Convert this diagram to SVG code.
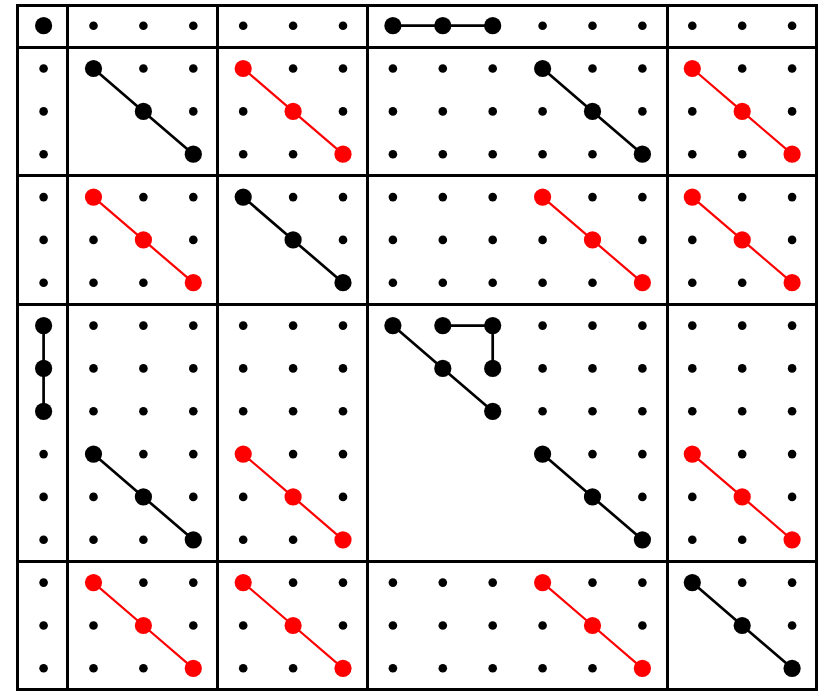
<svg xmlns="http://www.w3.org/2000/svg" width="821" height="691" viewBox="0 0 821 691">
<style>
.grid{stroke:#000;stroke-width:3;fill:none}
.lk{stroke:#000;stroke-width:2.7;fill:none}
.lr{stroke:#f00;stroke-width:2.2;fill:none}
.s{fill:#000}
.b{fill:#000}
.r{fill:#f00}
</style>
<defs>
<circle id="sd" r="4.3" class="s"/>
</defs>
<rect width="821" height="691" fill="#fff"/>
<g id="grid" class="grid">
<rect x="17.5" y="5.5" width="799" height="684"/>
<path d="M67.5 5.5V689.5M217.5 5.5V689.5M367.5 5.5V689.5M667.5 5.5V689.5M17.5 47.5H816.5M17.5 175.5H816.5M17.5 304.5H816.5M17.5 561.5H816.5"/>
</g>
<g id="connectors">
<path class="lk" d="M392.9 25.7H492.7"/>
<path class="lk" d="M93.5 68.5L143.4 111.4L193.3 154.2"/>
<path class="lk" d="M542.6 68.5L592.5 111.4L642.4 154.2"/>
<path class="lk" d="M243.2 197.1L293.1 239.9L343 282.7"/>
<path class="lk" d="M43.6 325.6V411.3"/>
<path class="lk" d="M93.5 454.1L143.4 496.9L193.3 539.8"/>
<path class="lk" d="M392.9 325.6L442.8 368.4L492.7 411.3"/>
<path class="lk" d="M442.8 325.6H492.7V368.4"/>
<path class="lk" d="M542.6 454.1L592.5 496.9L642.4 539.8"/>
<path class="lk" d="M692.3 582.6L742.2 625.5L792.1 668.3"/>
<path class="lr" d="M243.2 68.5L293.1 111.4L343 154.2"/>
<path class="lr" d="M692.3 68.5L742.2 111.4L792.1 154.2"/>
<path class="lr" d="M93.5 197.1L143.4 239.9L193.3 282.7"/>
<path class="lr" d="M542.6 197.1L592.5 239.9L642.4 282.7"/>
<path class="lr" d="M692.3 197.1L742.2 239.9L792.1 282.7"/>
<path class="lr" d="M243.2 454.1L293.1 496.9L343 539.8"/>
<path class="lr" d="M692.3 454.1L742.2 496.9L792.1 539.8"/>
<path class="lr" d="M93.5 582.6L143.4 625.5L193.3 668.3"/>
<path class="lr" d="M243.2 582.6L293.1 625.5L343 668.3"/>
<path class="lr" d="M542.6 582.6L592.5 625.5L642.4 668.3"/>
</g>
<g id="aA"><circle class="b" cx="43.6" cy="25.7" r="8.6"/></g>
<g id="aB"><use href="#sd" x="93.5" y="25.7"/><use href="#sd" x="143.4" y="25.7"/><use href="#sd" x="193.3" y="25.7"/></g>
<g id="aC"><use href="#sd" x="243.2" y="25.7"/><use href="#sd" x="293.1" y="25.7"/><use href="#sd" x="343" y="25.7"/></g>
<g id="aD"><circle class="b" cx="392.9" cy="25.7" r="8.6"/><circle class="b" cx="442.8" cy="25.7" r="8.6"/><circle class="b" cx="492.7" cy="25.7" r="8.6"/><use href="#sd" x="542.6" y="25.7"/><use href="#sd" x="592.5" y="25.7"/><use href="#sd" x="642.4" y="25.7"/></g>
<g id="aE"><use href="#sd" x="692.3" y="25.7"/><use href="#sd" x="742.2" y="25.7"/><use href="#sd" x="792.1" y="25.7"/></g>

<g id="bA"><use href="#sd" x="43.6" y="68.5"/><use href="#sd" x="43.6" y="111.4"/><use href="#sd" x="43.6" y="154.2"/></g>
<g id="bB"><circle class="b" cx="93.5" cy="68.5" r="8.6"/><circle class="b" cx="143.4" cy="111.4" r="8.6"/><circle class="b" cx="193.3" cy="154.2" r="8.6"/><use href="#sd" x="143.4" y="68.5"/><use href="#sd" x="193.3" y="68.5"/><use href="#sd" x="193.3" y="111.4"/></g>
<g id="bC"><circle class="r" cx="243.2" cy="68.5" r="8.6"/><circle class="r" cx="293.1" cy="111.4" r="8.6"/><circle class="r" cx="343" cy="154.2" r="8.6"/><use href="#sd" x="293.1" y="68.5"/><use href="#sd" x="343" y="68.5"/><use href="#sd" x="243.2" y="111.4"/><use href="#sd" x="343" y="111.4"/><use href="#sd" x="243.2" y="154.2"/><use href="#sd" x="293.1" y="154.2"/></g>
<g id="bD"><use href="#sd" x="392.9" y="68.5"/><use href="#sd" x="442.8" y="68.5"/><use href="#sd" x="492.7" y="68.5"/><use href="#sd" x="392.9" y="111.4"/><use href="#sd" x="442.8" y="111.4"/><use href="#sd" x="492.7" y="111.4"/><use href="#sd" x="392.9" y="154.2"/><use href="#sd" x="442.8" y="154.2"/><use href="#sd" x="492.7" y="154.2"/><circle class="b" cx="542.6" cy="68.5" r="8.6"/><circle class="b" cx="592.5" cy="111.4" r="8.6"/><circle class="b" cx="642.4" cy="154.2" r="8.6"/><use href="#sd" x="592.5" y="68.5"/><use href="#sd" x="642.4" y="68.5"/><use href="#sd" x="542.6" y="111.4"/><use href="#sd" x="642.4" y="111.4"/><use href="#sd" x="542.6" y="154.2"/><use href="#sd" x="592.5" y="154.2"/></g>
<g id="bE"><circle class="r" cx="692.3" cy="68.5" r="8.6"/><circle class="r" cx="742.2" cy="111.4" r="8.6"/><circle class="r" cx="792.1" cy="154.2" r="8.6"/><use href="#sd" x="742.2" y="68.5"/><use href="#sd" x="792.1" y="68.5"/><use href="#sd" x="692.3" y="111.4"/><use href="#sd" x="792.1" y="111.4"/><use href="#sd" x="692.3" y="154.2"/><use href="#sd" x="742.2" y="154.2"/></g>

<g id="cA"><use href="#sd" x="43.6" y="197.1"/><use href="#sd" x="43.6" y="239.9"/><use href="#sd" x="43.6" y="282.7"/></g>
<g id="cB"><circle class="r" cx="93.5" cy="197.1" r="8.6"/><circle class="r" cx="143.4" cy="239.9" r="8.6"/><circle class="r" cx="193.3" cy="282.7" r="8.6"/><use href="#sd" x="143.4" y="197.1"/><use href="#sd" x="193.3" y="197.1"/><use href="#sd" x="93.5" y="239.9"/><use href="#sd" x="193.3" y="239.9"/><use href="#sd" x="93.5" y="282.7"/><use href="#sd" x="143.4" y="282.7"/></g>
<g id="cC"><circle class="b" cx="243.2" cy="197.1" r="8.6"/><circle class="b" cx="293.1" cy="239.9" r="8.6"/><circle class="b" cx="343" cy="282.7" r="8.6"/><use href="#sd" x="293.1" y="197.1"/><use href="#sd" x="343" y="197.1"/><use href="#sd" x="343" y="239.9"/></g>
<g id="cD"><use href="#sd" x="392.9" y="197.1"/><use href="#sd" x="442.8" y="197.1"/><use href="#sd" x="492.7" y="197.1"/><use href="#sd" x="392.9" y="239.9"/><use href="#sd" x="442.8" y="239.9"/><use href="#sd" x="492.7" y="239.9"/><use href="#sd" x="392.9" y="282.7"/><use href="#sd" x="442.8" y="282.7"/><use href="#sd" x="492.7" y="282.7"/><circle class="r" cx="542.6" cy="197.1" r="8.6"/><circle class="r" cx="592.5" cy="239.9" r="8.6"/><circle class="r" cx="642.4" cy="282.7" r="8.6"/><use href="#sd" x="592.5" y="197.1"/><use href="#sd" x="642.4" y="197.1"/><use href="#sd" x="542.6" y="239.9"/><use href="#sd" x="642.4" y="239.9"/><use href="#sd" x="542.6" y="282.7"/><use href="#sd" x="592.5" y="282.7"/></g>
<g id="cE"><circle class="r" cx="692.3" cy="197.1" r="8.6"/><circle class="r" cx="742.2" cy="239.9" r="8.6"/><circle class="r" cx="792.1" cy="282.7" r="8.6"/><use href="#sd" x="742.2" y="197.1"/><use href="#sd" x="792.1" y="197.1"/><use href="#sd" x="692.3" y="239.9"/><use href="#sd" x="792.1" y="239.9"/><use href="#sd" x="692.3" y="282.7"/><use href="#sd" x="742.2" y="282.7"/></g>

<g id="dA"><circle class="b" cx="43.6" cy="325.6" r="8.6"/><circle class="b" cx="43.6" cy="368.4" r="8.6"/><circle class="b" cx="43.6" cy="411.3" r="8.6"/><use href="#sd" x="43.6" y="454.1"/><use href="#sd" x="43.6" y="496.9"/><use href="#sd" x="43.6" y="539.8"/></g>
<g id="dB"><use href="#sd" x="93.5" y="325.6"/><use href="#sd" x="143.4" y="325.6"/><use href="#sd" x="193.3" y="325.6"/><use href="#sd" x="93.5" y="368.4"/><use href="#sd" x="143.4" y="368.4"/><use href="#sd" x="193.3" y="368.4"/><use href="#sd" x="93.5" y="411.3"/><use href="#sd" x="143.4" y="411.3"/><use href="#sd" x="193.3" y="411.3"/><circle class="b" cx="93.5" cy="454.1" r="8.6"/><circle class="b" cx="143.4" cy="496.9" r="8.6"/><circle class="b" cx="193.3" cy="539.8" r="8.6"/><use href="#sd" x="143.4" y="454.1"/><use href="#sd" x="193.3" y="454.1"/><use href="#sd" x="93.5" y="496.9"/><use href="#sd" x="193.3" y="496.9"/><use href="#sd" x="93.5" y="539.8"/><use href="#sd" x="143.4" y="539.8"/></g>
<g id="dC"><use href="#sd" x="243.2" y="325.6"/><use href="#sd" x="293.1" y="325.6"/><use href="#sd" x="343" y="325.6"/><use href="#sd" x="243.2" y="368.4"/><use href="#sd" x="293.1" y="368.4"/><use href="#sd" x="343" y="368.4"/><use href="#sd" x="243.2" y="411.3"/><use href="#sd" x="293.1" y="411.3"/><use href="#sd" x="343" y="411.3"/><circle class="r" cx="243.2" cy="454.1" r="8.6"/><circle class="r" cx="293.1" cy="496.9" r="8.6"/><circle class="r" cx="343" cy="539.8" r="8.6"/><use href="#sd" x="293.1" y="454.1"/><use href="#sd" x="343" y="454.1"/><use href="#sd" x="243.2" y="496.9"/><use href="#sd" x="343" y="496.9"/><use href="#sd" x="243.2" y="539.8"/><use href="#sd" x="293.1" y="539.8"/></g>
<g id="dD"><circle class="b" cx="392.9" cy="325.6" r="8.6"/><circle class="b" cx="442.8" cy="325.6" r="8.6"/><circle class="b" cx="492.7" cy="325.6" r="8.6"/><circle class="b" cx="442.8" cy="368.4" r="8.6"/><circle class="b" cx="492.7" cy="368.4" r="8.6"/><circle class="b" cx="492.7" cy="411.3" r="8.6"/><use href="#sd" x="542.6" y="325.6"/><use href="#sd" x="592.5" y="325.6"/><use href="#sd" x="642.4" y="325.6"/><use href="#sd" x="542.6" y="368.4"/><use href="#sd" x="592.5" y="368.4"/><use href="#sd" x="642.4" y="368.4"/><use href="#sd" x="542.6" y="411.3"/><use href="#sd" x="592.5" y="411.3"/><use href="#sd" x="642.4" y="411.3"/><circle class="b" cx="542.6" cy="454.1" r="8.6"/><circle class="b" cx="592.5" cy="496.9" r="8.6"/><circle class="b" cx="642.4" cy="539.8" r="8.6"/><use href="#sd" x="592.5" y="454.1"/><use href="#sd" x="642.4" y="454.1"/><use href="#sd" x="642.4" y="496.9"/></g>
<g id="dE"><use href="#sd" x="692.3" y="325.6"/><use href="#sd" x="742.2" y="325.6"/><use href="#sd" x="792.1" y="325.6"/><use href="#sd" x="692.3" y="368.4"/><use href="#sd" x="742.2" y="368.4"/><use href="#sd" x="792.1" y="368.4"/><use href="#sd" x="692.3" y="411.3"/><use href="#sd" x="742.2" y="411.3"/><use href="#sd" x="792.1" y="411.3"/><circle class="r" cx="692.3" cy="454.1" r="8.6"/><circle class="r" cx="742.2" cy="496.9" r="8.6"/><circle class="r" cx="792.1" cy="539.8" r="8.6"/><use href="#sd" x="742.2" y="454.1"/><use href="#sd" x="792.1" y="454.1"/><use href="#sd" x="692.3" y="496.9"/><use href="#sd" x="792.1" y="496.9"/><use href="#sd" x="692.3" y="539.8"/><use href="#sd" x="742.2" y="539.8"/></g>

<g id="eA"><use href="#sd" x="43.6" y="582.6"/><use href="#sd" x="43.6" y="625.5"/><use href="#sd" x="43.6" y="668.3"/></g>
<g id="eB"><circle class="r" cx="93.5" cy="582.6" r="8.6"/><circle class="r" cx="143.4" cy="625.5" r="8.6"/><circle class="r" cx="193.3" cy="668.3" r="8.6"/><use href="#sd" x="143.4" y="582.6"/><use href="#sd" x="193.3" y="582.6"/><use href="#sd" x="93.5" y="625.5"/><use href="#sd" x="193.3" y="625.5"/><use href="#sd" x="93.5" y="668.3"/><use href="#sd" x="143.4" y="668.3"/></g>
<g id="eC"><circle class="r" cx="243.2" cy="582.6" r="8.6"/><circle class="r" cx="293.1" cy="625.5" r="8.6"/><circle class="r" cx="343" cy="668.3" r="8.6"/><use href="#sd" x="293.1" y="582.6"/><use href="#sd" x="343" y="582.6"/><use href="#sd" x="243.2" y="625.5"/><use href="#sd" x="343" y="625.5"/><use href="#sd" x="243.2" y="668.3"/><use href="#sd" x="293.1" y="668.3"/></g>
<g id="eD"><use href="#sd" x="392.9" y="582.6"/><use href="#sd" x="442.8" y="582.6"/><use href="#sd" x="492.7" y="582.6"/><use href="#sd" x="392.9" y="625.5"/><use href="#sd" x="442.8" y="625.5"/><use href="#sd" x="492.7" y="625.5"/><use href="#sd" x="392.9" y="668.3"/><use href="#sd" x="442.8" y="668.3"/><use href="#sd" x="492.7" y="668.3"/><circle class="r" cx="542.6" cy="582.6" r="8.6"/><circle class="r" cx="592.5" cy="625.5" r="8.6"/><circle class="r" cx="642.4" cy="668.3" r="8.6"/><use href="#sd" x="592.5" y="582.6"/><use href="#sd" x="642.4" y="582.6"/><use href="#sd" x="542.6" y="625.5"/><use href="#sd" x="642.4" y="625.5"/><use href="#sd" x="542.6" y="668.3"/><use href="#sd" x="592.5" y="668.3"/></g>
<g id="eE"><circle class="b" cx="692.3" cy="582.6" r="8.6"/><circle class="b" cx="742.2" cy="625.5" r="8.6"/><circle class="b" cx="792.1" cy="668.3" r="8.6"/><use href="#sd" x="742.2" y="582.6"/><use href="#sd" x="792.1" y="582.6"/><use href="#sd" x="792.1" y="625.5"/></g>
</svg>
